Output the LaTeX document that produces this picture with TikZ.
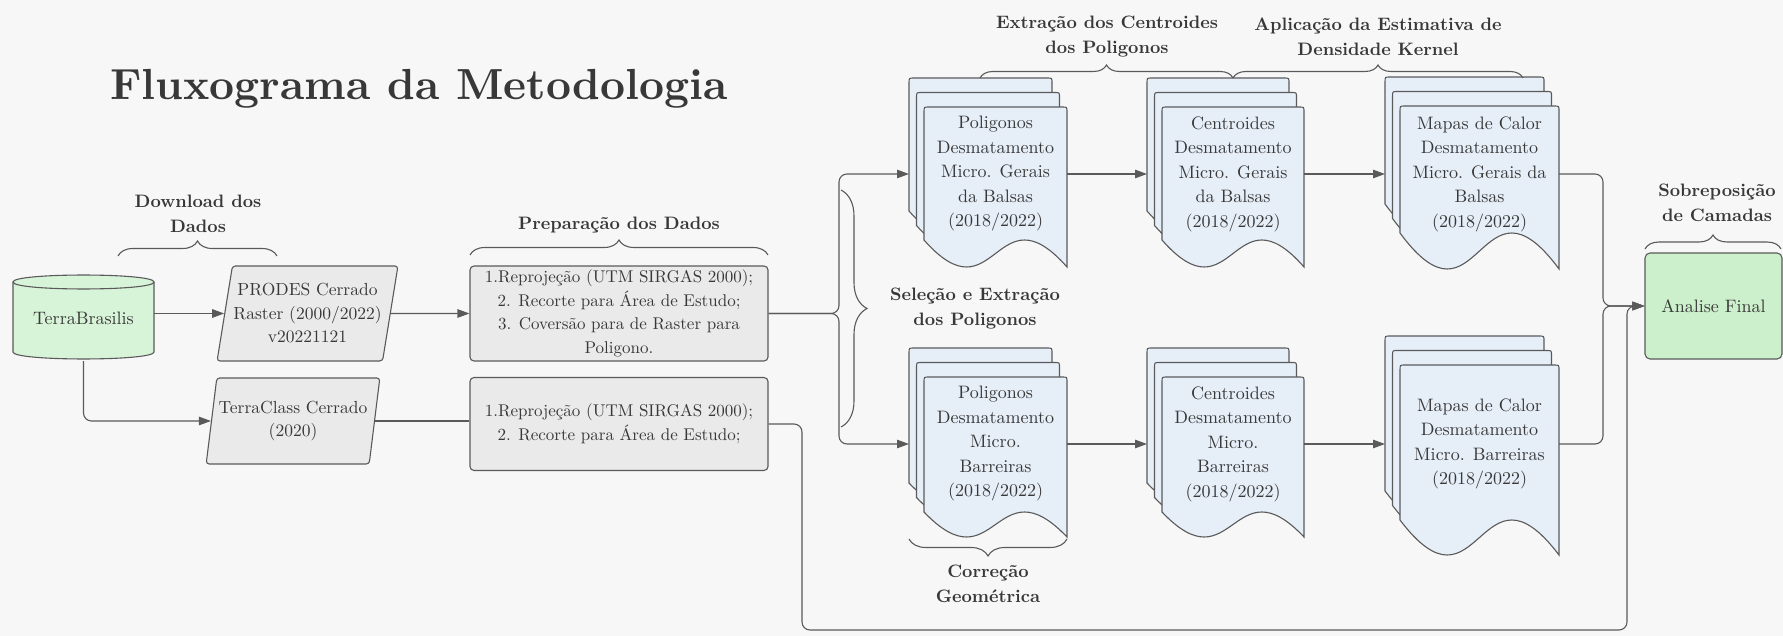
\documentclass[tikz,border=0pt]{standalone}
\usepackage{fontspec}
\setmainfont{lmroman10-regular.otf}[BoldFont=lmroman10-bold.otf]
\usepackage{xcolor}
\usepackage{tikz}
\usetikzlibrary{arrows.meta,shapes.geometric,decorations.pathreplacing}
\definecolor{cbg}{HTML}{F7F7F7}
\definecolor{cline}{HTML}{5A5A5A}
\definecolor{ctxt}{HTML}{383838}
\definecolor{cgray}{HTML}{EAEAEA}
\definecolor{cdoc}{HTML}{E6EEF8}
\definecolor{cgrn}{HTML}{D8F4D8}
\definecolor{cgrnb}{HTML}{CCEFCC}

% name, left, top, width, height, wave, text y, text
\newcommand{\docstack}[8]{%
  \foreach \o in {2,1,0}
    \draw[docline,shift={(-7.5*\o,-14.5*\o)}] (#2,{#3+#5-#6}) -- (#2,#3+5) .. controls (#2,#3) .. (#2+5,#3)
      -- ({#2+#4-5},#3) .. controls ({#2+#4},#3) .. ({#2+#4},#3+5) -- ({#2+#4},{#3+#5})
      .. controls ({#2+#4/2},{#3+#5-3*#6}) and ({#2+#4/2},{#3+#5+2*#6}) .. cycle;
  \node[txt] (#1-t) at ({#2+#4/2},#7) {#8};
  \node[stackbox,minimum width={#4pt+15pt}] (#1) at ({#2+#4/2-7.5},#7) {};
}

\begin{document}
\begin{tikzpicture}[x=1pt,y=-1pt,
  txt/.style={font=\fontsize{18}{24.5}\selectfont,text=ctxt,align=center,inner sep=1pt},
  lbl/.style={font=\bfseries\fontsize{18}{25}\selectfont,text=ctxt,align=center,inner sep=1pt},
  box/.style={txt,font=\fontsize{17}{23.5}\selectfont,draw=cline,fill=cgray,line width=1.1pt,rounded corners=4pt,minimum width=298pt},
  para/.style={txt,font=\fontsize{17.5}{23.5}\selectfont,trapezium,trapezium left angle=76,trapezium right angle=104,trapezium stretches=true,
    draw=cline,fill=cgray,line width=1.1pt,rounded corners=3pt},
  docline/.style={draw=cline,fill=cdoc,line width=1.1pt},
  stackbox/.style={inner sep=0pt,outer sep=0pt,minimum height=10pt},
  conn/.style={draw=cline,line width=1.1pt,rounded corners=8pt},
  arr/.style={conn,-{Triangle[length=12pt,width=8.5pt]}},
  brc/.style={draw=cline,line width=1.1pt,decorate,decoration={brace,amplitude=15pt}}]

  \fill[cbg] (0,0) rectangle (1783,636);
  \useasboundingbox (0,0) rectangle (1783,636);

  \node[lbl,font=\bfseries\fontsize{43.5}{50}\selectfont,anchor=base west,inner sep=0pt] (title) at (110,100) {Fluxograma da Metodologia};

  \draw[draw=cline,fill=cgrn,line width=1.1pt] (13,282) .. controls (13,272.7) and (154,272.7) .. (154,282)
    -- (154,352) .. controls (154,361.3) and (13,361.3) .. (13,352) -- cycle;
  \draw[draw=cline,line width=1.1pt] (13,282) .. controls (13,291.3) and (154,291.3) .. (154,282);
  \node[txt,minimum width=141pt,minimum height=86pt] (tb) at (83.5,318) {TerraBrasilis};

  \node[para,minimum width=181pt,minimum height=95pt] (prodes) at (307.5,313.5) {PRODES Cerrado\\Raster (2000/2022)\\v20221121};
  \node[para,minimum width=174pt,minimum height=86pt] (tc) at (293,421) {TerraClass Cerrado\\(2020)};

  \node[box,minimum height=95pt] (prep1) at (619,313.5) {1.Reprojeção (UTM SIRGAS 2000);\\2. Recorte para Área de Estudo;\\3. Coversão para de Raster para\\Poligono.};
  \node[box,minimum height=93pt] (prep2) at (619,424) {1.Reprojeção (UTM SIRGAS 2000);\\2. Recorte para Área de Estudo;};

  \docstack{poli1}{924}{107}{143}{160}{27}{174}{Poligonos\\Desmatamento\\Micro. Gerais\\da Balsas\\(2018/2022)}
  \docstack{cent1}{1162}{107}{142}{160}{27}{174}{Centroides\\Desmatamento\\Micro. Gerais\\da Balsas\\(2018/2022)}
  \docstack{map1}{1400}{106}{159}{163}{36}{174}{Mapas de Calor\\Desmatamento\\Micro. Gerais da\\Balsas\\(2018/2022)}
  \docstack{poli2}{924}{377}{143}{160}{25}{444}{Poligonos\\Desmatamento\\Micro.\\Barreiras\\(2018/2022)}
  \docstack{cent2}{1162}{377}{142}{160}{25}{444}{Centroides\\Desmatamento\\Micro.\\Barreiras\\(2018/2022)}
  \docstack{map2}{1400}{365}{159}{190}{35}{444}{Mapas de Calor\\Desmatamento\\Micro. Barreiras\\(2018/2022)}

  \node[txt,draw=cline,fill=cgrnb,line width=1.1pt,rounded corners=5pt,minimum width=137pt,minimum height=106pt] (fin) at (1713.5,306) {Analise Final};

  \coordinate (fork) at (839,313.5);
  \coordinate (join) at (1603,306);
  \coordinate (low1) at (802,630);
  \coordinate (low2) at (1627,630);

  \draw[arr] (tb.east |- prodes.west) -- (prodes.west);
  \draw[arr] (tb.south) |- (tc.west);
  \draw[arr] (prodes.east) -- (prep1.west);
  \draw[conn] (tc.east) -- (tc.east -| prep2.west);
  \draw[arr] (prep1.east) -- (fork) |- (poli1.west);
  \draw[arr] (prep1.east) -- (fork) |- (poli2.west);
  \draw[arr] (poli1.east) -- (cent1.west);
  \draw[arr] (cent1.east) -- (map1.west);
  \draw[arr] (poli2.east) -- (cent2.west);
  \draw[arr] (cent2.east) -- (map2.west);
  \draw[arr] (map1.east) -| (join) -- (fin.west);
  \draw[arr] (map2.east) -| (join) -- (fin.west);
  \draw[arr] (prep2.east) -| (low1) -- (low2) |- (fin.west);

  \draw[brc] (118,256) -- (277,256);
  \node[lbl] (ldown) at (198,214) {Download dos\\Dados};
  \draw[brc] (470,255) -- (768,255);
  \node[lbl] (lprep) at (619,225) {Preparação dos Dados};
  \draw[brc,decoration={brace,amplitude=13pt}] (980,78) -- (1233,78);
  \node[lbl] (lcent) at (1107,37) {Extração dos Centroides\\dos Poligonos};
  \draw[brc,decoration={brace,amplitude=13pt}] (1233,78) -- (1523,78);
  \node[lbl] (lkern) at (1378,37) {Aplicação da Estimativa de\\Densidade Kernel};
  \draw[brc,decoration={brace,amplitude=26pt}] (841,190) -- (841,427);
  \node[lbl] (lsel) at (975,309) {Seleção e Extração\\dos Poligonos};
  \draw[brc,decoration={brace,amplitude=17pt}] (1067,539) -- (909,539);
  \node[lbl] (lcorr) at (988,584) {Correção\\Geométrica};
  \draw[brc,decoration={brace,amplitude=14pt}] (1645,249) -- (1781,249);
  \node[lbl] (lsob) at (1717,203) {Sobreposição\\de Camadas};
\end{tikzpicture}
\end{document}
